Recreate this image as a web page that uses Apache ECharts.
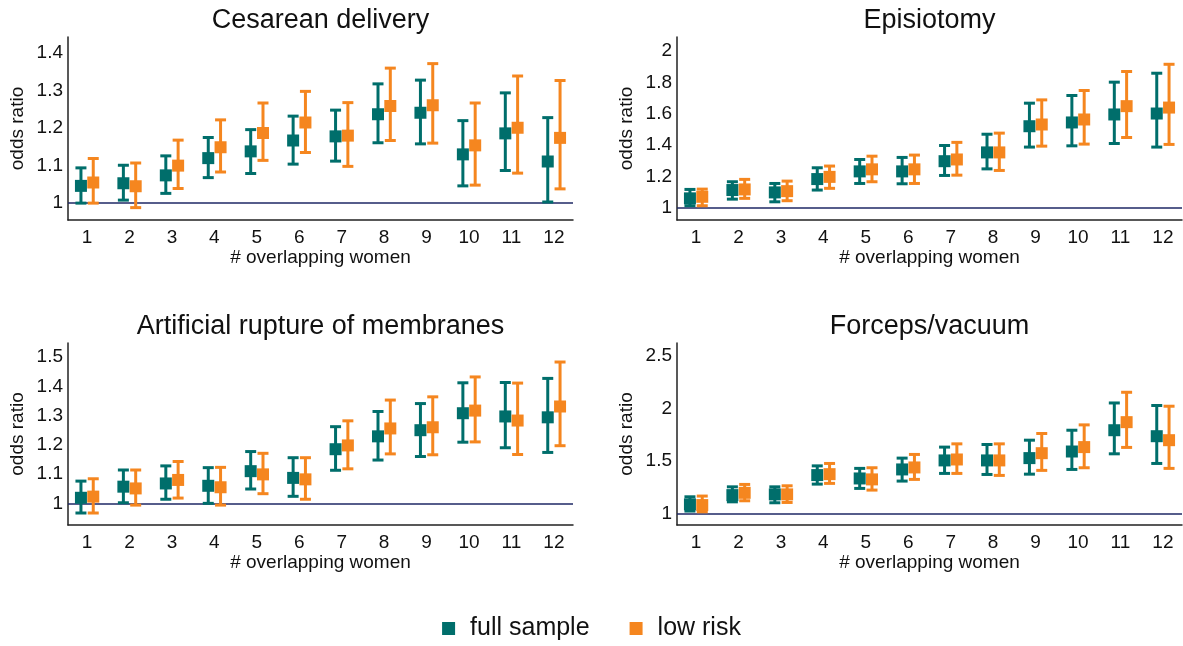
<!DOCTYPE html>
<html>
<head>
<meta charset="utf-8">
<script src="https://cdn.jsdelivr.net/npm/echarts@6.0.0/dist/echarts.min.js"></script>
<style>
  html, body { margin: 0; padding: 0; background: #fff; }
  #chart { width: 1183px; height: 646px; }
</style>
</head>
<body>
<div id="chart"></div>
<script>
// # overlapping women
var overlap = [1, 2, 3, 4, 5, 6, 7, 8, 9, 10, 11, 12];

// Cesarean delivery
var cesFullOR = [1.046, 1.053, 1.074, 1.120, 1.138, 1.167, 1.178, 1.237, 1.241, 1.130, 1.186, 1.111];
var cesFullLo = [1.000, 1.008, 1.026, 1.068, 1.079, 1.104, 1.112, 1.161, 1.158, 1.046, 1.087, 1.003];
var cesFullHi = [1.094, 1.101, 1.126, 1.175, 1.196, 1.232, 1.248, 1.318, 1.328, 1.220, 1.294, 1.228];
var cesLowOR = [1.055, 1.045, 1.100, 1.149, 1.187, 1.215, 1.180, 1.259, 1.261, 1.154, 1.201, 1.174];
var cesLowLo = [1.000, 0.988, 1.039, 1.083, 1.114, 1.135, 1.098, 1.167, 1.160, 1.048, 1.080, 1.038];
var cesLowHi = [1.119, 1.107, 1.168, 1.222, 1.267, 1.298, 1.268, 1.360, 1.372, 1.267, 1.339, 1.327];

// Episiotomy
var epiFullOR = [1.060, 1.113, 1.098, 1.183, 1.232, 1.232, 1.297, 1.353, 1.520, 1.544, 1.595, 1.601];
var epiFullLo = [1.013, 1.055, 1.038, 1.113, 1.155, 1.153, 1.206, 1.248, 1.387, 1.395, 1.410, 1.387];
var epiFullHi = [1.117, 1.166, 1.155, 1.255, 1.308, 1.321, 1.397, 1.469, 1.667, 1.716, 1.801, 1.858];
var epiLowOR = [1.070, 1.117, 1.106, 1.197, 1.245, 1.245, 1.308, 1.353, 1.531, 1.563, 1.648, 1.639];
var epiLowLo = [1.013, 1.060, 1.045, 1.124, 1.166, 1.155, 1.208, 1.238, 1.393, 1.406, 1.448, 1.404];
var epiLowHi = [1.119, 1.181, 1.170, 1.266, 1.329, 1.336, 1.417, 1.476, 1.688, 1.748, 1.869, 1.915];

// Artificial rupture of membranes
var armFullOR = [1.019, 1.057, 1.068, 1.060, 1.110, 1.087, 1.185, 1.229, 1.250, 1.308, 1.297, 1.294];
var armFullLo = [0.967, 1.002, 1.014, 1.000, 1.049, 1.024, 1.113, 1.148, 1.160, 1.209, 1.190, 1.174];
var armFullHi = [1.076, 1.114, 1.128, 1.122, 1.177, 1.156, 1.262, 1.314, 1.341, 1.412, 1.413, 1.427];
var armLowOR = [1.023, 1.051, 1.080, 1.055, 1.099, 1.082, 1.198, 1.256, 1.260, 1.317, 1.283, 1.331];
var armLowLo = [0.967, 0.994, 1.018, 0.994, 1.033, 1.014, 1.118, 1.169, 1.166, 1.210, 1.167, 1.197];
var armLowHi = [1.084, 1.114, 1.143, 1.123, 1.171, 1.156, 1.282, 1.353, 1.364, 1.432, 1.411, 1.483];

// Forceps/vacuum
var fvFullOR = [1.086, 1.174, 1.181, 1.365, 1.333, 1.419, 1.505, 1.505, 1.527, 1.590, 1.793, 1.736];
var fvFullLo = [1.022, 1.110, 1.101, 1.279, 1.238, 1.308, 1.381, 1.371, 1.374, 1.419, 1.568, 1.476];
var fvFullHi = [1.158, 1.253, 1.253, 1.453, 1.429, 1.527, 1.632, 1.657, 1.698, 1.793, 2.053, 2.029];
var fvLowOR = [1.079, 1.196, 1.181, 1.374, 1.324, 1.438, 1.514, 1.505, 1.574, 1.632, 1.870, 1.698];
var fvLowLo = [1.015, 1.120, 1.104, 1.286, 1.222, 1.324, 1.381, 1.362, 1.410, 1.435, 1.629, 1.429];
var fvLowHi = [1.165, 1.276, 1.263, 1.476, 1.435, 1.562, 1.663, 1.663, 1.762, 1.844, 2.155, 2.022];

// y tick labels per panel
var cesTicks = [1, 1.1, 1.2, 1.3, 1.4];
var epiTicks = [1, 1.2, 1.4, 1.6, 1.8, 2];
var armTicks = [1, 1.1, 1.2, 1.3, 1.4, 1.5];
var fvTicks = [1, 1.5, 2, 2.5];

var titles = ['Cesarean delivery', 'Episiotomy', 'Artificial rupture of membranes', 'Forceps/vacuum'];
var seriesNames = ['full sample', 'low risk'];
var colors = ['#006e6b', '#f5861f'];

var FONT = '"Liberation Sans", Arial, sans-serif';

function rows(or, lo, hi) {
  return overlap.map(function (k, i) {
    return [k, or[i], lo[i], hi[i]];
  });
}

function errorBar(offset, color) {
  return function (params, api) {
    var x = api.value(0) + offset;
    var mid = api.coord([x, api.value(1)]);
    var bot = api.coord([x, api.value(2)]);
    var top = api.coord([x, api.value(3)]);
    var cap = 5.5;
    var half = 6;
    var line = { stroke: color, lineWidth: 3 };
    return {
      type: 'group',
      children: [
        { type: 'line', shape: { x1: top[0], y1: top[1], x2: bot[0], y2: bot[1] }, style: line },
        { type: 'line', shape: { x1: top[0] - cap, y1: top[1], x2: top[0] + cap, y2: top[1] }, style: line },
        { type: 'line', shape: { x1: bot[0] - cap, y1: bot[1], x2: bot[0] + cap, y2: bot[1] }, style: line },
        { type: 'rect', shape: { x: mid[0] - half, y: mid[1] - half, width: half * 2, height: half * 2 }, style: { fill: color } },
      ],
    };
  };
}

var panels = [
  { full: rows(cesFullOR, cesFullLo, cesFullHi), low: rows(cesLowOR, cesLowLo, cesLowHi), ymin: 0.955, ymax: 1.443, ticks: cesTicks },
  { full: rows(epiFullOR, epiFullLo, epiFullHi), low: rows(epiLowOR, epiLowLo, epiLowHi), ymin: 0.922, ymax: 2.089, ticks: epiTicks },
  { full: rows(armFullOR, armFullLo, armFullHi), low: rows(armLowOR, armLowLo, armLowHi), ymin: 0.926, ymax: 1.548, ticks: armTicks },
  { full: rows(fvFullOR, fvFullLo, fvFullHi), low: rows(fvLowOR, fvLowLo, fvLowHi), ymin: 0.889, ymax: 2.625, ticks: fvTicks },
];

var grids = [
  { left: 68, top: 37, width: 505, height: 183 },
  { left: 677, top: 37, width: 505, height: 183 },
  { left: 68, top: 343, width: 505, height: 182 },
  { left: 677, top: 343, width: 505, height: 182 },
];

var axisLine = { show: true, onZero: false, lineStyle: { color: '#222', width: 1.5 } };

var option = {
  backgroundColor: '#fff',
  animation: false,
  title: titles.map(function (t, i) {
    return {
      text: t,
      left: grids[i].left + grids[i].width / 2,
      top: grids[i].top - 30,
      textAlign: 'center',
      padding: 0,
      textStyle: { fontFamily: FONT, fontSize: 27, fontWeight: 'normal', color: '#111' },
    };
  }),
  legend: {
    data: seriesNames,
    left: 'center',
    top: 611,
    icon: 'rect',
    itemWidth: 13,
    itemHeight: 13,
    itemGap: 40,
    textStyle: { fontFamily: FONT, fontSize: 25, color: '#111', padding: [0, 0, 0, 10] },
  },
  grid: grids,
  xAxis: grids.map(function (g, i) {
    return {
      type: 'value',
      gridIndex: i,
      min: 0.55,
      max: 12.45,
      name: '# overlapping women',
      nameLocation: 'middle',
      nameGap: 25,
      nameTextStyle: { fontFamily: FONT, fontSize: 19, color: '#111' },
      axisLine: axisLine,
      axisTick: { show: false },
      splitLine: { show: false },
      axisLabel: {
        customValues: overlap,
        margin: 8,
        fontFamily: FONT,
        fontSize: 19,
        color: '#111',
      },
    };
  }),
  yAxis: panels.map(function (p, i) {
    return {
      type: 'value',
      gridIndex: i,
      min: p.ymin,
      max: p.ymax,
      name: 'odds ratio',
      nameLocation: 'middle',
      nameGap: 41,
      nameTextStyle: { fontFamily: FONT, fontSize: 19, color: '#111' },
      axisLine: axisLine,
      axisTick: { show: false },
      splitLine: { show: false },
      axisLabel: {
        customValues: p.ticks,
        margin: 5,
        fontFamily: FONT,
        fontSize: 19,
        color: '#111',
        formatter: function (v) {
          return String(Math.round(v * 10) / 10);
        },
      },
    };
  }),
  series: [],
};

panels.forEach(function (p, i) {
  option.series.push({
    name: seriesNames[0],
    type: 'custom',
    xAxisIndex: i,
    yAxisIndex: i,
    itemStyle: { color: colors[0] },
    renderItem: errorBar(-0.145, colors[0]),
    encode: { x: 0, y: [1, 2, 3] },
    data: p.full,
    z: 3,
    markLine: {
      silent: true,
      symbol: 'none',
      label: { show: false },
      lineStyle: { color: '#1e2764', width: 1.5, type: 'solid' },
      data: [{ yAxis: 1 }],
      z: 1,
    },
  });
  option.series.push({
    name: seriesNames[1],
    type: 'custom',
    xAxisIndex: i,
    yAxisIndex: i,
    itemStyle: { color: colors[1] },
    renderItem: errorBar(0.145, colors[1]),
    encode: { x: 0, y: [1, 2, 3] },
    data: p.low,
    z: 3,
  });
});

var chart = echarts.init(document.getElementById('chart'));
chart.setOption(option);
</script>
</body>
</html>
